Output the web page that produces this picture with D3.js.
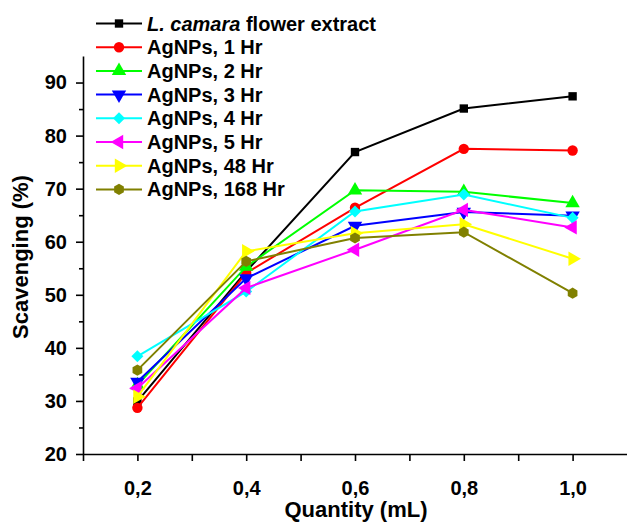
<!DOCTYPE html>
<html>
<head>
<meta charset="utf-8">
<script src="https://cdn.jsdelivr.net/npm/d3@7"></script>
<style>
  body { margin: 0; background: #fff; }
  svg { display: block; font-family: "Liberation Sans", Arial, sans-serif; font-weight: bold; }
</style>
</head>
<body>
<div id="my_dataviz"></div>
<script>
// x values (mL)
var quantities = [0.2, 0.4, 0.6, 0.8, 1.0];

// scavenging (%) for each series
var camara = [29.9, 54.4, 76.9, 85.1, 87.4];
var ag1 = [28.7, 54.1, 66.4, 77.5, 77.2];
var ag2 = [33.0, 55.3, 69.7, 69.4, 67.3];
var ag3 = [33.6, 53.1, 63.0, 65.6, 64.9];
var ag4 = [38.4, 50.6, 65.7, 68.9, 64.5];
var ag5 = [32.4, 51.3, 58.5, 66.0, 62.7];
var ag48 = [30.8, 58.2, 61.6, 63.3, 56.8];
var ag168 = [35.8, 56.3, 60.7, 61.8, 50.3];

var seriesNames = ["L. camara flower extract", "AgNPs, 1 Hr", "AgNPs, 2 Hr", "AgNPs, 3 Hr",
                   "AgNPs, 4 Hr", "AgNPs, 5 Hr", "AgNPs, 48 Hr", "AgNPs, 168 Hr"];

var xTicks = [0.2, 0.4, 0.6, 0.8, 1.0];
var yTicks = [20, 30, 40, 50, 60, 70, 80, 90];

var series = [
    {name: seriesNames[0], values: camara, color: "#000000", shape: "square"},
    {name: seriesNames[1], values: ag1, color: "#ff0000", shape: "circle"},
    {name: seriesNames[2], values: ag2, color: "#00ff00", shape: "up"},
    {name: seriesNames[3], values: ag3, color: "#0000ff", shape: "down"},
    {name: seriesNames[4], values: ag4, color: "#00ffff", shape: "diamond"},
    {name: seriesNames[5], values: ag5, color: "#ff00ff", shape: "left"},
    {name: seriesNames[6], values: ag48, color: "#ffff00", shape: "right"},
    {name: seriesNames[7], values: ag168, color: "#808000", shape: "hexagon"}
];

var W = 627, H = 522;
var plotLeft = 83, plotTop = 56, plotBottom = 454;

var svg = d3.select("#my_dataviz")
    .append("svg")
    .attr("width", W)
    .attr("height", H);

var x = d3.scaleLinear().domain([0.1, 1.1]).range([plotLeft, W]);
var y = d3.scaleLinear().domain([20, 95]).range([plotBottom, plotTop]);

// marker shapes
function markerPath(shape) {
    if (shape == "square") return d3.symbol().type(d3.symbolSquare).size(70)();
    if (shape == "circle") return d3.symbol().type(d3.symbolCircle).size(85)();
    if (shape == "diamond") return d3.symbol().type(d3.symbolSquare).size(72)();
    if (shape == "hexagon") {
        var r = 5.6, pts = [];
        for (var i = 0; i < 6; i++) {
            var a = Math.PI / 6 + i * Math.PI / 3;
            pts.push([r * Math.cos(a), r * Math.sin(a)]);
        }
        return "M" + pts.join("L") + "Z";
    }
    return d3.symbol().type(d3.symbolTriangle).size(90)();
}
function markerRotate(shape) {
    if (shape == "down") return 180;
    if (shape == "diamond") return 45;
    if (shape == "left") return -90;
    if (shape == "right") return 90;
    return 0;
}

function styleText(g) {
    g.selectAll("text").attr("font-size", 20).attr("font-weight", "bold")
        .attr("font-family", "Liberation Sans, Arial, sans-serif").attr("fill", "#000");
}

// x axis: minor ticks every 0.1, labels at 0.2
svg.append("g")
    .attr("transform", "translate(0," + plotBottom + ")")
    .call(d3.axisBottom(x).tickValues(d3.range(1, 11).map(function(d) { return d / 10; }))
        .tickSize(7).tickSizeOuter(0).tickFormat(""))
    .call(function(g) {
        g.select(".domain").attr("stroke-width", 1.6);
        g.selectAll(".tick line").attr("stroke-width", 1.6);
    });
svg.append("g")
    .attr("transform", "translate(0," + plotBottom + ")")
    .call(d3.axisBottom(x).tickValues(xTicks).tickSize(0).tickPadding(27)
        .tickFormat(function(d) { return d3.format(".1f")(d).replace(".", ","); }))
    .call(function(g) {
        g.select(".domain").remove();
        styleText(g);
    });

// y axis: major every 10, minor every 5
svg.append("g")
    .attr("transform", "translate(" + plotLeft + ",0)")
    .call(d3.axisLeft(y).tickValues(d3.range(25, 95, 10)).tickSize(4).tickSizeOuter(0).tickFormat(""))
    .call(function(g) {
        g.select(".domain").attr("stroke-width", 1.6);
        g.selectAll(".tick line").attr("stroke-width", 1.6);
    });
svg.append("g")
    .attr("transform", "translate(" + plotLeft + ",0)")
    .call(d3.axisLeft(y).tickValues(yTicks).tickSize(7).tickPadding(9))
    .call(function(g) {
        g.select(".domain").remove();
        g.selectAll(".tick line").attr("stroke-width", 1.6);
        styleText(g);
    });

// axis titles
svg.append("text")
    .attr("x", 356).attr("y", 517)
    .attr("text-anchor", "middle")
    .attr("font-size", 22)
    .text("Quantity (mL)");
svg.append("text")
    .attr("transform", "translate(28,257) rotate(-90)")
    .attr("text-anchor", "middle")
    .attr("font-size", 22)
    .text("Scavenging (%)");

// lines and markers
var line = d3.line()
    .x(function(d, i) { return x(quantities[i]); })
    .y(function(d) { return y(d); });

series.forEach(function(s) {
    var g = svg.append("g");
    g.append("path")
        .datum(s.values)
        .attr("d", line)
        .attr("fill", "none")
        .attr("stroke", s.color)
        .attr("stroke-width", 2);
    g.selectAll("path.mk")
        .data(s.values)
        .enter()
        .append("path")
        .attr("class", "mk")
        .attr("d", markerPath(s.shape))
        .attr("transform", function(d, i) {
            return "translate(" + x(quantities[i]) + "," + y(d) + ") rotate(" + markerRotate(s.shape) + ")";
        })
        .attr("fill", s.color);
});

// legend
var legend = svg.append("g");
series.forEach(function(s, i) {
    var ly = 23.5 + i * 23.7;
    legend.append("line")
        .attr("x1", 96).attr("x2", 142)
        .attr("y1", ly).attr("y2", ly)
        .attr("stroke", s.color)
        .attr("stroke-width", 2);
    legend.append("path")
        .attr("d", markerPath(s.shape))
        .attr("transform", "translate(119," + ly + ") rotate(" + markerRotate(s.shape) + ")")
        .attr("fill", s.color);
    var t = legend.append("text")
        .attr("x", 147).attr("y", ly + 7)
        .attr("font-size", 20);
    if (i == 0) {
        t.append("tspan").attr("font-style", "italic").text("L. camara");
        t.append("tspan").text(" flower extract");
    } else {
        t.text(s.name);
    }
});
</script>
</body>
</html>
